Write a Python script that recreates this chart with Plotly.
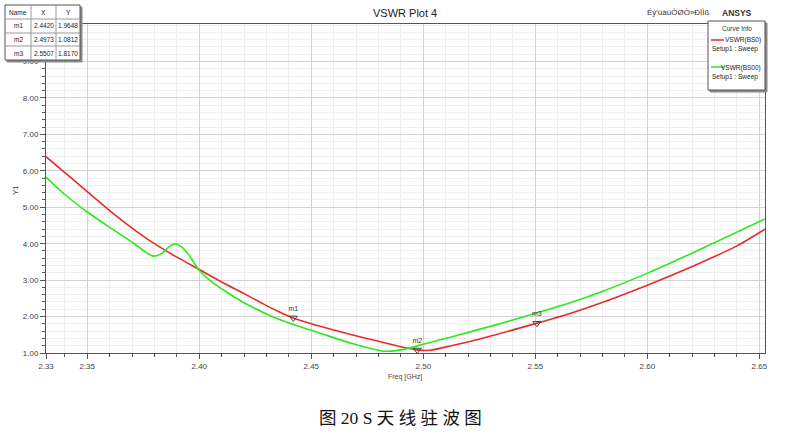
import plotly.graph_objects as go

# ---- data ----
red_f = [2.3316, 2.34, 2.35, 2.36, 2.37, 2.38, 2.39, 2.40, 2.41, 2.42, 2.43, 2.436, 2.442,
         2.45, 2.46, 2.4676, 2.48, 2.49, 2.4973, 2.503, 2.512, 2.5273, 2.5507, 2.5662,
         2.5795, 2.6011, 2.6213, 2.64, 2.6525]
red_v = [6.39, 5.95, 5.43, 4.91, 4.43, 4.00, 3.63, 3.29, 2.95, 2.63, 2.30, 2.12, 1.96,
         1.80, 1.63, 1.51, 1.32, 1.17, 1.085, 1.075, 1.19, 1.42, 1.82, 2.10,
         2.38, 2.89, 3.41, 3.94, 4.40]
green_f = [2.3316, 2.34, 2.35, 2.36, 2.3706, 2.3765, 2.3795, 2.383, 2.3865, 2.389, 2.392, 2.3955,
           2.3997, 2.405, 2.412, 2.42, 2.4333, 2.445, 2.4527, 2.4676, 2.4825, 2.4915, 2.50, 2.5124,
           2.5362, 2.5662, 2.5795, 2.6011, 2.6213, 2.6525]
green_v = [5.83, 5.35, 4.87, 4.45, 4.02, 3.75, 3.66, 3.72, 3.92, 3.99, 3.92, 3.68,
           3.29, 2.98, 2.68, 2.38, 1.98, 1.72, 1.57, 1.27, 1.05, 1.10, 1.24, 1.44,
           1.84, 2.39, 2.68, 3.22, 3.78, 4.68]
marker_names = ["m1", "m2", "m3"]
marker_x = [2.4420, 2.4973, 2.5507]
marker_y = [1.9648, 1.0812, 1.8170]
x_tickvals = [2.3316, 2.35, 2.40, 2.45, 2.50, 2.55, 2.60, 2.65]
x_ticktext = ["2.33", "2.35", "2.40", "2.45", "2.50", "2.55", "2.60", "2.65"]
y_tickvals = [1, 2, 3, 4, 5, 6, 7, 8, 9]

W, H = 791, 437
L, R, T, B = 46, 765, 24, 353


def px(x):
    return (x - L) / (R - L)


def py(y):
    return (B - y) / (B - T)


fig = go.Figure()
fig.add_trace(go.Scatter(x=red_f, y=red_v, mode="lines",
                         line=dict(color="#ea2a2a", width=1.6, shape="spline", smoothing=0.7),
                         showlegend=False, hoverinfo="skip"))
fig.add_trace(go.Scatter(x=green_f, y=green_v, mode="lines",
                         line=dict(color="#2ee81e", width=1.6, shape="spline", smoothing=0.7),
                         showlegend=False, hoverinfo="skip"))
fig.add_trace(go.Scatter(x=marker_x, y=marker_y, mode="markers+text", text=marker_names,
                         textposition="top center", textfont=dict(size=7, color="#333", family="Liberation Sans"),
                         marker=dict(symbol="triangle-down-open", size=7, color="#444", line=dict(width=1)),
                         showlegend=False, hoverinfo="skip"))

axis_font = dict(family="Liberation Sans, Arial", size=8, color="#444")
fig.update_layout(
    width=W, height=H, paper_bgcolor="white", plot_bgcolor="white",
    margin=dict(l=L, r=W - R, t=T, b=H - B),
    xaxis=dict(range=[2.3316, 2.6525], tickvals=x_tickvals, ticktext=x_ticktext, ticks="outside", ticklen=5,
               tickcolor="#555", showline=True, linecolor="#555", linewidth=1, mirror=True,
               showgrid=True, gridcolor="#d2d2d2", gridwidth=1, zeroline=False, tickfont=axis_font,
               minor=dict(tick0=2.33, dtick=0.01, ticks="outside", ticklen=3, tickcolor="#555",
                          showgrid=True, gridcolor="#ededed")),
    yaxis=dict(range=[1, 10.03], tickvals=y_tickvals, tickformat=".2f", ticks="outside", ticklen=5,
               tickcolor="#555", showline=True, linecolor="#555", linewidth=1, mirror=True,
               showgrid=True, gridcolor="#d2d2d2", gridwidth=1, zeroline=False, tickfont=axis_font,
               minor=dict(tick0=1, dtick=0.2, ticks="outside", ticklen=3, tickcolor="#555",
                          showgrid=True, gridcolor="#efefef")),
)

ann = []
shapes = []


def text(x, y, s, size=8, color="#222", xanchor="center", family="Liberation Sans, Arial", **kw):
    ann.append(dict(x=px(x), y=py(y), xref="paper", yref="paper", text=s, showarrow=False,
                    xanchor=xanchor, yanchor="middle", font=dict(size=size, color=color, family=family), **kw))


def rect(x0, y0, x1, y1, fill="white", line="#666", width=1):
    shapes.append(dict(type="rect", xref="paper", yref="paper", x0=px(x0), x1=px(x1), y0=py(y1), y1=py(y0),
                       fillcolor=fill, line=dict(color=line, width=width)))


def hline(x0, x1, y, color="#888", width=1):
    shapes.append(dict(type="line", xref="paper", yref="paper", x0=px(x0), x1=px(x1), y0=py(y), y1=py(y),
                       line=dict(color=color, width=width)))


def vline(x, y0, y1, color="#888", width=1):
    shapes.append(dict(type="line", xref="paper", yref="paper", x0=px(x), x1=px(x), y0=py(y0), y1=py(y1),
                       line=dict(color=color, width=width)))


# titles
text(405, 13, "VSWR Plot 4", size=11, color="#222")
text(712, 13, "Éý'ùàúÒØÒ»ÐÏÌß", size=8, color="#333", xanchor="right")
text(720, 13, "<b>ANSYS</b>", size=8.5, color="#333", xanchor="left")
text(15, 190, "Y1", size=8, color="#444", textangle=-90)
text(405, 377, "Freq [GHz]", size=7, color="#444")
text(400, 418, "图 20 S 天 线 驻 波 图", size=17.5, color="#111", family="Liberation Serif, Noto Sans CJK SC")

# marker table
rect(7, 7, 82, 62, fill="#8a8a8a", line="#8a8a8a")
rect(5, 5, 80, 60, fill="white", line="#555")
for yy in (19, 33, 46):
    hline(5, 80, yy, color="#999")
for xx in (31, 56):
    vline(xx, 5, 60, color="#999")
text(18, 12, "Name", size=6.5)
text(43.5, 12, "X", size=6.5)
text(68, 12, "Y", size=6.5)
for i, (nm, mx, my) in enumerate(zip(marker_names, marker_x, marker_y)):
    yy = 26 + i * 13.5
    text(18, yy, nm, size=6.5)
    text(43.5, yy, f"{mx:.4f}", size=6.5)
    text(68, yy, f"{my:.4f}", size=6.5)

# curve info legend
rect(710, 23, 767, 92, fill="#8a8a8a", line="#8a8a8a")
rect(708, 21, 765, 90, fill="white", line="#555")
text(736.5, 29, "Curve Info", size=6.5, color="#333")
hline(711, 724, 40, color="#ea2a2a", width=1.5)
text(763, 40, "VSWR(BS0)", size=6.5, xanchor="right")
text(710, 49, "Setup1 : Sweep", size=6.5, xanchor="left")
hline(711, 724, 67, color="#2ee81e", width=1.5)
text(763, 68, "VSWR(BS00)", size=6.5, xanchor="right")
text(710, 77, "Setup1 : Sweep", size=6.5, xanchor="left")

fig.update_layout(annotations=ann, shapes=shapes)
fig.write_html("out.html", config={"displayModeBar": False},
               post_script="document.body.style.margin='0';document.body.style.overflow='hidden';")
